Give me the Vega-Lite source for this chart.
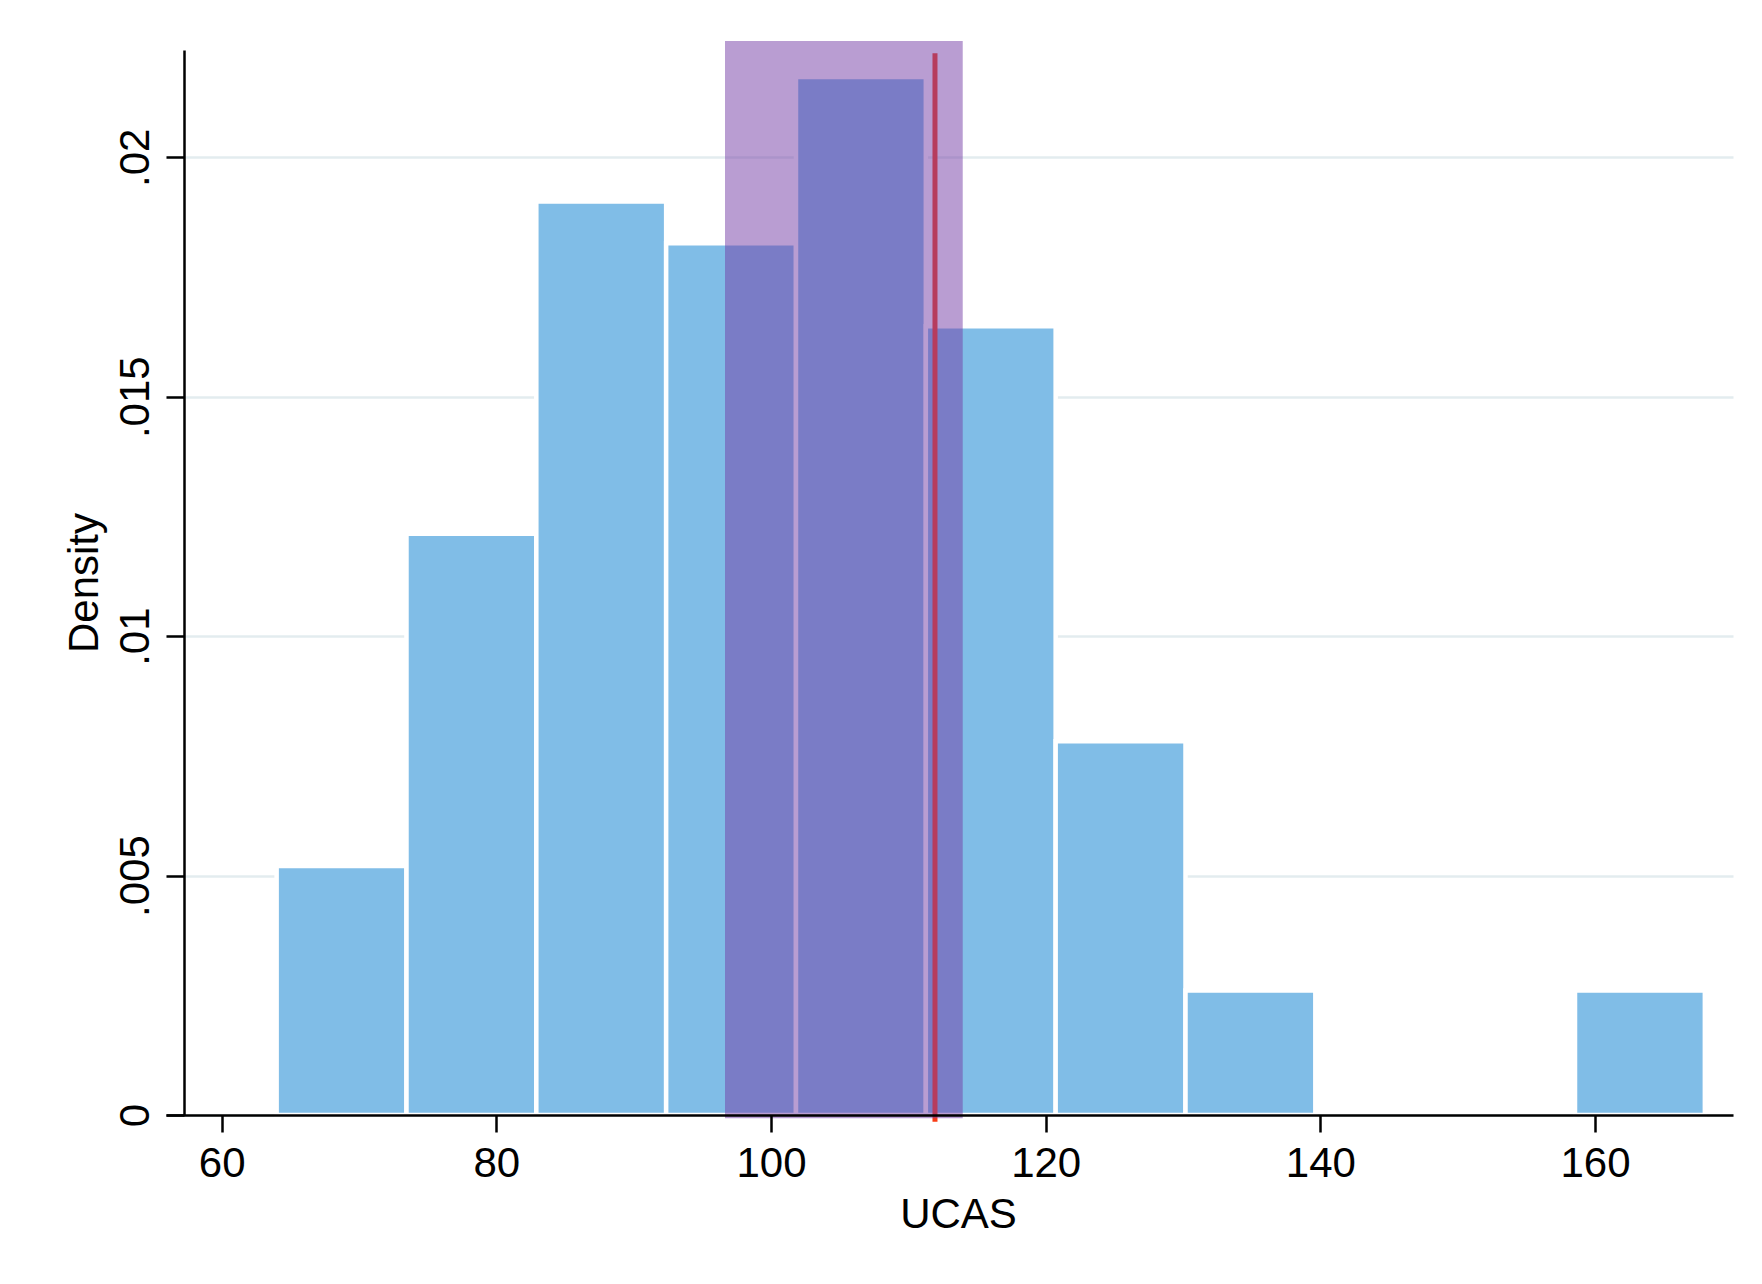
{
  "$schema": "https://vega.github.io/schema/vega-lite/v6.json",
  "width": 1567,
  "height": 1065,
  "autosize": {"type": "none"},
  "padding": {"left": 166, "top": 50, "right": 29, "bottom": 169},
  "background": "white",
  "config": {
    "view": {"stroke": null},
    "font": "Liberation Sans",
    "axis": {
      "labelFont": "Liberation Sans",
      "titleFont": "Liberation Sans",
      "labelFontSize": 42,
      "titleFontSize": 42,
      "titleFontWeight": "normal",
      "labelColor": "#000000",
      "titleColor": "#000000",
      "domainColor": "#000000",
      "tickColor": "#000000",
      "domainWidth": 2.5,
      "tickWidth": 2.5
    }
  },
  "datasets": {
    "bins": [
      {"bin_start": 64.0, "bin_end": 73.455, "density": 0.005202},
      {"bin_start": 73.455, "bin_end": 82.909, "density": 0.012138},
      {"bin_start": 82.909, "bin_end": 92.364, "density": 0.019074},
      {"bin_start": 92.364, "bin_end": 101.818, "density": 0.018207},
      {"bin_start": 101.818, "bin_end": 111.273, "density": 0.021675},
      {"bin_start": 111.273, "bin_end": 120.727, "density": 0.016473},
      {"bin_start": 120.727, "bin_end": 130.182, "density": 0.007803},
      {"bin_start": 130.182, "bin_end": 139.636, "density": 0.002601},
      {"bin_start": 139.636, "bin_end": 149.091, "density": 0},
      {"bin_start": 149.091, "bin_end": 158.545, "density": 0},
      {"bin_start": 158.545, "bin_end": 168.0, "density": 0.002601}
    ],
    "band": [
      {"lo": 96.65, "hi": 113.96, "bottom": -0.00007, "top": 0.02243}
    ],
    "marker": [
      {"value": 111.94, "bottom": -0.00014, "top": 0.02217}
    ]
  },
  "layer": [
    {
      "data": {"name": "bins"},
      "transform": [{"filter": "datum.density > 0"}],
      "mark": {"type": "rect", "color": "#80BDE7", "stroke": "#FFFFFF", "strokeWidth": 4.5, "clip": false},
      "encoding": {
        "x": {
          "field": "bin_start",
          "type": "quantitative",
          "scale": {"domain": [55.944, 170.05], "nice": false, "zero": false},
          "axis": {
            "title": "UCAS",
            "values": [60, 80, 100, 120, 140, 160],
            "grid": false,
            "tickSize": 17,
            "labelPadding": 11,
            "titlePadding": 10,
            "titleX": 792,
            "zindex": 1,
            "labelFlush": false
          }
        },
        "x2": {"field": "bin_end"},
        "y": {
          "field": "density",
          "type": "quantitative",
          "scale": {"domain": [0, 0.02224], "nice": false},
          "axis": {
            "title": "Density",
            "values": [0, 0.005, 0.01, 0.015, 0.02],
            "labelExpr": "replace(format(datum.value, '~g'), '0.', '.')",
            "labelAngle": -90,
            "grid": true,
            "gridColor": "#E3ECEF",
            "gridWidth": 2.5,
            "tickSize": 18,
            "labelPadding": 9,
            "titlePadding": 8,
            "offset": -18,
            "zindex": 0,
            "labelFlush": false
          }
        },
        "y2": {"datum": 0}
      }
    },
    {
      "data": {"name": "marker"},
      "mark": {"type": "rule", "color": "#F83C16", "strokeWidth": 5, "clip": false},
      "encoding": {
        "x": {"field": "value", "type": "quantitative"},
        "y": {"field": "bottom", "type": "quantitative"},
        "y2": {"field": "top"}
      }
    },
    {
      "data": {"name": "band"},
      "mark": {"type": "rect", "color": "#743BA5", "opacity": 0.5, "clip": false},
      "encoding": {
        "x": {"field": "lo", "type": "quantitative"},
        "x2": {"field": "hi"},
        "y": {"field": "bottom", "type": "quantitative"},
        "y2": {"field": "top"}
      }
    }
  ]
}
